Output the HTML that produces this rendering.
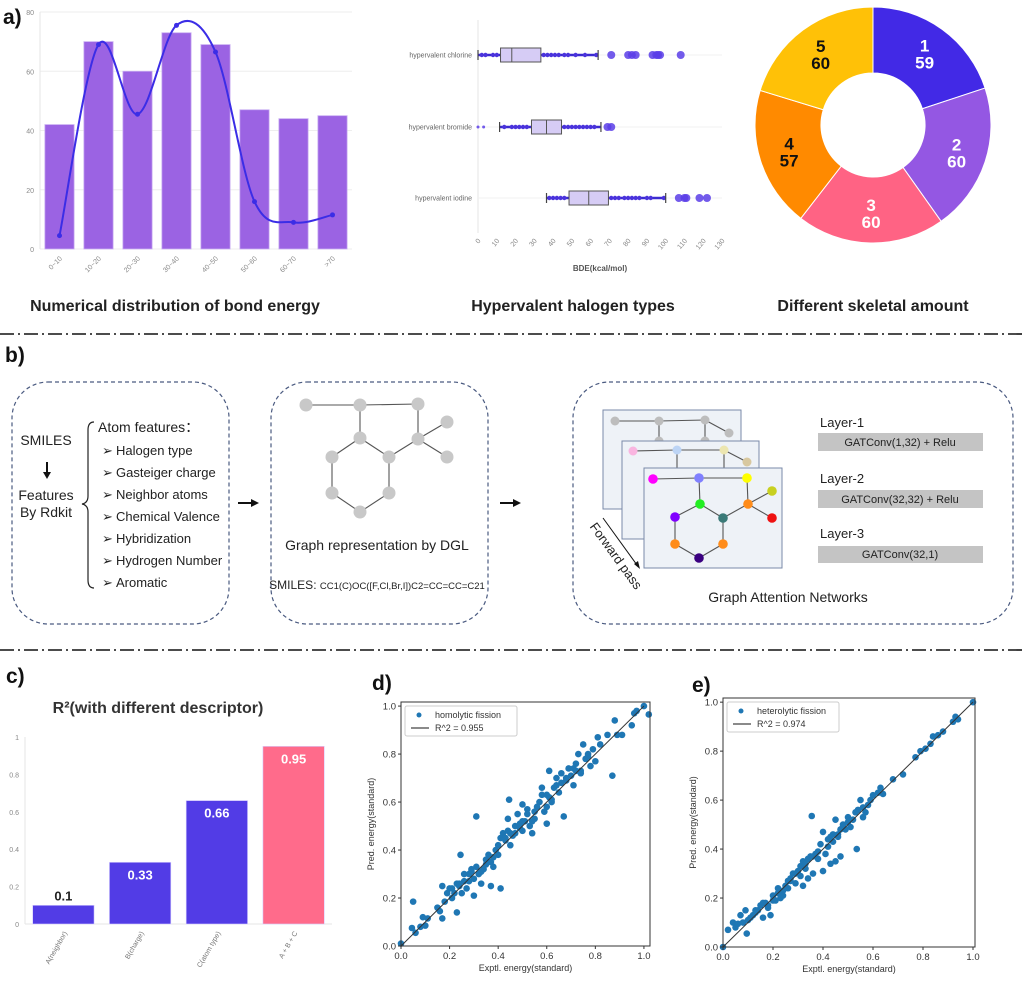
<!DOCTYPE html>
<html><head><meta charset="utf-8">
<style>
html,body{margin:0;padding:0;background:#fff;}
body{width:1024px;height:977px;overflow:hidden;font-family:"Liberation Sans",sans-serif;}
svg text{font-family:"Liberation Sans",sans-serif;}
</style></head>
<body>
<svg id="fig" width="1024" height="977" viewBox="0 0 1024 977" xmlns="http://www.w3.org/2000/svg">
<g id="static">
  <text x="3" y="24" font-size="21" font-weight="bold" fill="#111">a)</text>
  <text x="5" y="362" font-size="21" font-weight="bold" fill="#111">b)</text>
  <text x="6" y="683" font-size="21" font-weight="bold" fill="#111">c)</text>
  <text x="372" y="690" font-size="21" font-weight="bold" fill="#111">d)</text>
  <text x="692" y="692" font-size="21" font-weight="bold" fill="#111">e)</text>
  <line x1="0" y1="334" x2="1024" y2="334" stroke="#111" stroke-width="1.6" stroke-dasharray="14 4 2 4"/>
  <line x1="0" y1="650" x2="1024" y2="650" stroke="#111" stroke-width="1.6" stroke-dasharray="14 4 2 4"/>
  <text x="175" y="311" font-size="16" font-weight="bold" text-anchor="middle" fill="#222">Numerical distribution of bond energy</text>
  <text x="573" y="311" font-size="16" font-weight="bold" text-anchor="middle" fill="#222">Hypervalent halogen types</text>
  <text x="873" y="311" font-size="16" font-weight="bold" text-anchor="middle" fill="#222">Different skeletal amount</text>

  <rect x="12" y="382" width="217" height="242" rx="36" fill="none" stroke="#4a5a80" stroke-width="1.2" stroke-dasharray="4 3"/>
  <rect x="271" y="382" width="217" height="242" rx="36" fill="none" stroke="#4a5a80" stroke-width="1.2" stroke-dasharray="4 3"/>
  <rect x="573" y="382" width="440" height="242" rx="36" fill="none" stroke="#4a5a80" stroke-width="1.2" stroke-dasharray="4 3"/>
  <g font-size="13" fill="#222">
    <text x="46" y="445" text-anchor="middle" font-size="14">SMILES</text>
    <line x1="47" y1="462" x2="47" y2="474" stroke="#111" stroke-width="2"/>
    <polygon points="43,472 51,472 47,479" fill="#111"/>
    <text x="46" y="500" text-anchor="middle" font-size="14">Features</text>
    <text x="46" y="517" text-anchor="middle" font-size="14">By Rdkit</text>
    <path d="M94,422 Q88,422 88,430 L88,496 Q88,503 82,504 Q88,505 88,512 L88,580 Q88,588 94,588" fill="none" stroke="#222" stroke-width="1.2"/>
    <text x="98" y="432" font-size="14">Atom features：</text>
    <g>
      <text x="102" y="455">➢</text><text x="116" y="455">Halogen type</text>
      <text x="102" y="477">➢</text><text x="116" y="477">Gasteiger charge</text>
      <text x="102" y="499">➢</text><text x="116" y="499">Neighbor atoms</text>
      <text x="102" y="521">➢</text><text x="116" y="521">Chemical Valence</text>
      <text x="102" y="543">➢</text><text x="116" y="543">Hybridization</text>
      <text x="102" y="565">➢</text><text x="116" y="565">Hydrogen Number</text>
      <text x="102" y="587">➢</text><text x="116" y="587">Aromatic</text>
    </g>
  </g>
  <g>
    <line x1="238" y1="503" x2="253" y2="503" stroke="#111" stroke-width="2"/><polygon points="251,499 259,503 251,507" fill="#111"/>
    <line x1="500" y1="503" x2="515" y2="503" stroke="#111" stroke-width="2"/><polygon points="513,499 521,503 513,507" fill="#111"/>
  </g>
  <g id="molecule"></g>
  <text x="377" y="550" font-size="14" text-anchor="middle" fill="#222">Graph representation by DGL</text>
  <text x="377" y="589" text-anchor="middle" fill="#222"><tspan font-size="12">SMILES: </tspan><tspan font-size="9.5">CC1(C)OC([F,Cl,Br,I])C2=CC=CC=C21</tspan></text>

  <rect x="603" y="410" width="138" height="99" fill="#eef2f7" stroke="#7a8aa8" stroke-width="1"/>
  <g id="card1"></g>
  <rect x="622" y="441" width="137" height="98" fill="#eef2f7" stroke="#7a8aa8" stroke-width="1"/>
  <g id="card2"></g>
  <rect x="644" y="468" width="138" height="100" fill="#eef2f7" stroke="#7a8aa8" stroke-width="1"/>
  <g id="card3"></g>
  <line x1="603" y1="518" x2="637" y2="565" stroke="#111" stroke-width="1"/>
  <polygon points="634,564 640,569 638,561" fill="#111"/>
  <text x="0" y="0" font-size="13" fill="#222" dominant-baseline="hanging" transform="translate(597,521) rotate(54)">Forward pass</text>
  <text x="820" y="427" font-size="13" fill="#222">Layer-1</text>
  <rect x="818" y="433" width="165" height="18" fill="#c4c4c4"/>
  <text x="900" y="446" font-size="11" text-anchor="middle" fill="#222">GATConv(1,32) + Relu</text>
  <text x="820" y="483" font-size="13" fill="#222">Layer-2</text>
  <rect x="818" y="490" width="165" height="18" fill="#c4c4c4"/>
  <text x="900" y="503" font-size="11" text-anchor="middle" fill="#222">GATConv(32,32) + Relu</text>
  <text x="820" y="538" font-size="13" fill="#222">Layer-3</text>
  <rect x="818" y="546" width="165" height="17" fill="#c4c4c4"/>
  <text x="900" y="558" font-size="11" text-anchor="middle" fill="#222">GATConv(32,1)</text>
  <text x="788" y="602" font-size="14" text-anchor="middle" fill="#222">Graph Attention Networks</text>

  <text x="158" y="713" font-size="16" font-weight="bold" text-anchor="middle" fill="#333">R²(with different descriptor)</text>
</g>
<g id="charts"></g>
</svg>
<script>
const bondCats = ["0~10","10~20","20~30","30~40","40~50","50~60","60~70",">70"];
const bondCounts = [42, 70, 60, 73, 69, 47, 44, 45];
const bondCurve = [4.5, 69, 45.5, 75.5, 66.5, 16, 9, 11.5];
const bondTicks = [0, 20, 40, 60, 80];
const halCats = ["hypervalent chlorine","hypervalent bromide","hypervalent iodine"];
const halQ1 = [12, 28.5, 48.5];
const halMed = [18, 36.5, 59];
const halQ3 = [33.5, 44.5, 69.5];
const halLo = [0, 11.5, 36.5];
const halHi = [64, 65.5, 100];
const halOutliers = [[71,80,82,84,93,95,96,97,108],[0,3,69,71],[107,110,111,118,122]];
const halInliers = [[2,4,8,10,35,37,39,41,43,46,48,52,57,63],[14,18,20,22,24,26,46,48,50,52,54,56,58,60,62],[38,40,42,44,46,71,73,75,78,80,82,84,86,90,92,99]];
const bdeTicks = [0,10,20,30,40,50,60,70,80,90,100,110,120,130];
const skelLabels = ["1","2","3","4","5"];
const skelValues = [59, 60, 60, 57, 60];
const descCats = ["A(neighbor)","B(charge)","C(atom type)","A + B + C"];
const descR2 = [0.1, 0.33, 0.66, 0.95];
const descLabels = ["0.1","0.33","0.66","0.95"];
const r2Ticks = [0, 0.2, 0.4, 0.6, 0.8, 1];
const r2TickLabels = ["0","0.2","0.4","0.6","0.8","1"];
const scTicks = [0, 0.2, 0.4, 0.6, 0.8, 1.0];
const scTickLabels = ["0.0","0.2","0.4","0.6","0.8","1.0"];
const homoX = [0,0.045,0.05,0.06,0.08,0.09,0.1,0.11,0.15,0.16,0.17,0.17,0.18,0.19,0.2,0.21,0.22,0.23,0.23,0.24,0.245,0.25,0.26,0.27,0.28,0.29,0.3,0.3,0.31,0.31,0.32,0.33,0.34,0.35,0.36,0.37,0.37,0.38,0.39,0.4,0.41,0.42,0.43,0.44,0.44,0.445,0.45,0.46,0.47,0.48,0.49,0.5,0.5,0.51,0.52,0.53,0.54,0.55,0.57,0.58,0.59,0.6,0.6,0.61,0.61,0.62,0.63,0.64,0.65,0.66,0.67,0.68,0.69,0.7,0.71,0.72,0.73,0.74,0.75,0.76,0.77,0.78,0.79,0.8,0.81,0.82,0.85,0.87,0.88,0.89,0.91,0.95,0.96,0.97,1.0,1.02,0.26,0.28,0.33,0.4,0.41,0.47,0.56,0.58,0.71,0.52,0.43,0.49,0.55,0.62,0.66,0.74,0.21,0.35,0.24,0.29,0.38,0.45,0.5,0.54,0.6,0.64,0.68,0.72,0.77];
const homoY = [0.01,0.075,0.185,0.055,0.08,0.12,0.085,0.115,0.16,0.145,0.115,0.25,0.185,0.22,0.24,0.2,0.22,0.14,0.26,0.25,0.38,0.22,0.27,0.24,0.3,0.32,0.21,0.28,0.54,0.33,0.3,0.26,0.32,0.36,0.38,0.35,0.25,0.33,0.4,0.38,0.24,0.47,0.44,0.48,0.53,0.61,0.42,0.46,0.5,0.55,0.51,0.59,0.48,0.52,0.57,0.5,0.47,0.53,0.6,0.63,0.56,0.58,0.51,0.73,0.62,0.6,0.66,0.7,0.64,0.72,0.54,0.69,0.74,0.71,0.67,0.76,0.8,0.72,0.84,0.78,0.8,0.75,0.82,0.77,0.87,0.84,0.88,0.71,0.94,0.88,0.88,0.92,0.97,0.98,1.0,0.965,0.3,0.27,0.31,0.42,0.45,0.47,0.58,0.66,0.74,0.55,0.45,0.49,0.56,0.61,0.68,0.73,0.24,0.34,0.26,0.31,0.37,0.47,0.52,0.52,0.63,0.67,0.7,0.73,0.79];
const heteX = [0.0,0.02,0.04,0.05,0.06,0.07,0.08,0.09,0.095,0.1,0.11,0.12,0.13,0.14,0.15,0.16,0.17,0.18,0.19,0.2,0.21,0.22,0.23,0.24,0.25,0.26,0.27,0.28,0.29,0.3,0.31,0.32,0.32,0.33,0.34,0.35,0.355,0.36,0.37,0.38,0.39,0.4,0.4,0.41,0.42,0.43,0.44,0.45,0.45,0.46,0.47,0.48,0.49,0.5,0.51,0.52,0.535,0.54,0.55,0.56,0.57,0.58,0.6,0.62,0.63,0.64,0.68,0.72,0.77,0.79,0.81,0.83,0.84,0.86,0.88,0.92,0.93,0.94,1.0,0.27,0.31,0.34,0.42,0.47,0.5,0.56,0.44,0.59,0.16,0.22,0.24,0.13,0.18,0.36,0.46,0.2,0.26,0.29,0.33,0.38,0.43,0.48,0.53];
const heteY = [0.0,0.07,0.1,0.08,0.095,0.13,0.1,0.15,0.055,0.11,0.12,0.13,0.14,0.15,0.17,0.12,0.18,0.16,0.13,0.21,0.19,0.22,0.2,0.23,0.25,0.24,0.27,0.3,0.26,0.31,0.29,0.25,0.35,0.32,0.28,0.37,0.535,0.3,0.38,0.36,0.42,0.31,0.47,0.38,0.44,0.34,0.43,0.52,0.35,0.46,0.37,0.5,0.48,0.53,0.49,0.52,0.4,0.56,0.6,0.57,0.55,0.58,0.62,0.63,0.65,0.625,0.685,0.705,0.775,0.8,0.81,0.83,0.86,0.865,0.88,0.92,0.94,0.93,1.0,0.28,0.33,0.36,0.41,0.48,0.51,0.53,0.46,0.6,0.18,0.24,0.21,0.15,0.17,0.37,0.45,0.19,0.27,0.3,0.34,0.39,0.45,0.49,0.55];

const NS = "http://www.w3.org/2000/svg";
const root = document.getElementById('charts');
function mk(tag, attrs, parent, text){
  const e = document.createElementNS(NS, tag);
  for (const k in attrs) e.setAttribute(k, attrs[k]);
  if (text !== undefined) e.textContent = text;
  (parent || root).appendChild(e);
  return e;
}
function grp(name, parent){
  const g = mk('g', {}, parent);
  
  
  return g;
}

(function(){
  const g = grp('bond-energy-chart');
  const x0 = 40, x1 = 352, yTop = 12, yBot = 249, yMax = 80;
  const sy = v => yBot - (v / yMax) * (yBot - yTop);
  const step = (x1 - x0) / bondCats.length;
  const cx = i => x0 + step * (i + 0.5);
  bondTicks.forEach(t => {
    const l = mk('line', {x1:x0, x2:x1, y1:sy(t), y2:sy(t), stroke:'#eeeeee', 'stroke-width':1}, g);
    
    
    const tx = mk('text', {x:x0-6, y:sy(t)+3, 'font-size':7, fill:'#888', 'text-anchor':'end'}, g, String(t));
    
    
  });
  mk('line', {x1:x0, x2:x0, y1:yTop, y2:yBot, stroke:'#e6e6e6'}, g);
  bondCounts.forEach((v, i) => {
    const w = step * 0.75;
    const r = mk('rect', {x:cx(i)-w/2, y:sy(v), width:w, height:yBot-sy(v), fill:'#9b63e3', stroke:'#c9aef2', 'stroke-width':0.8}, g);
    
    
    const t = mk('text', {'font-size':7, fill:'#888', 'text-anchor':'end', transform:`translate(${cx(i)+3},${yBot+10}) rotate(-45)`}, g, bondCats[i]);
    
    
  });
  const pts = bondCurve.map((v, i) => [cx(i), sy(v)]);
  let d = `M${pts[0][0]},${pts[0][1]}`;
  for (let i = 0; i < pts.length - 1; i++){
    const p0 = pts[Math.max(0, i-1)], p1 = pts[i], p2 = pts[i+1], p3 = pts[Math.min(pts.length-1, i+2)];
    const t = 1/6;
    d += ` C${p1[0]+(p2[0]-p0[0])*t},${p1[1]+(p2[1]-p0[1])*t} ${p2[0]-(p3[0]-p1[0])*t},${p2[1]-(p3[1]-p1[1])*t} ${p2[0]},${p2[1]}`;
  }
  const c = mk('path', {d:d, fill:'none', stroke:'#3b2de6', 'stroke-width':2}, g);
  
  
  pts.forEach(p => {
    const m = mk('circle', {cx:p[0], cy:p[1], r:2.5, fill:'#3b2de6'}, g);
    
    
  });
})();

(function(){
  const g = grp('halogen-boxplot');
  const x0 = 478, x1 = 722, vMax = 130, yAx = 233;
  const sx = v => x0 + (v / vMax) * (x1 - x0);
  const rowY = [55, 127, 198];
  mk('line', {x1:x0, x2:x0, y1:20, y2:yAx, stroke:'#e6e6e6'}, g);
  bdeTicks.forEach(t => {
    const tx = mk('text', {'font-size':7, fill:'#888', 'text-anchor':'end', transform:`translate(${sx(t)+3},${yAx+8}) rotate(-50)`}, g, String(t));
    
    
  });
  const xl = mk('text', {x:600, y:271, 'font-size':8, 'font-weight':'bold', fill:'#555', 'text-anchor':'middle'}, g, 'BDE(kcal/mol)');
  
  
  halCats.forEach((cat, i) => {
    const y = rowY[i];
    mk('line', {x1:x0, x2:x1, y1:y, y2:y, stroke:'#f0f0f0'}, g);
    const lb = mk('text', {x:x0-6, y:y+2.5, 'font-size':7, fill:'#666', 'text-anchor':'end'}, g, cat);
    
    
    mk('line', {x1:sx(halLo[i]), x2:sx(halHi[i]), y1:y, y2:y, stroke:'#3b2bd0', 'stroke-width':2.6}, g);
    halInliers[i].forEach(v => mk('circle', {cx:sx(v), cy:y, r:2.2, fill:'#4a33dc'}, g));
    const b = mk('rect', {x:sx(halQ1[i]), y:y-7, width:sx(halQ3[i])-sx(halQ1[i]), height:14, fill:'#d6ccf5', stroke:'#555', 'stroke-width':1}, g);
    
    
    mk('line', {x1:sx(halMed[i]), x2:sx(halMed[i]), y1:y-7, y2:y+7, stroke:'#555'}, g);
    mk('line', {x1:sx(halLo[i]), x2:sx(halLo[i]), y1:y-5, y2:y+5, stroke:'#444', 'stroke-width':1.2}, g);
    mk('line', {x1:sx(halHi[i]), x2:sx(halHi[i]), y1:y-5, y2:y+5, stroke:'#444', 'stroke-width':1.2}, g);
    halOutliers[i].forEach(v => {
      const o = mk('circle', {cx:sx(v), cy:y, r:(v>halHi[i]?4:1.5), fill:'#5a3ee8', opacity:0.85}, g);
      
      
    });
  });
})();

(function(){
  const g = grp('skeletal-donut');
  const cx = 873, cy = 125, R = 118, r = 52;
  const colors = ['#4229e6','#9457e3','#ff6384','#ff8a00','#ffc107'];
  const txtCol = ['#fff','#fff','#fff','#111','#111'];
  const total = skelValues.reduce((a,b)=>a+b,0);
  let a = -Math.PI/2;
  skelValues.forEach((v, i) => {
    const a2 = a + v/total*2*Math.PI;
    const P = (rad, ang) => [cx + rad*Math.cos(ang), cy + rad*Math.sin(ang)];
    const p1 = P(R,a), p2 = P(R,a2), p3 = P(r,a2), p4 = P(r,a);
    const large = (a2-a) > Math.PI ? 1 : 0;
    const s = mk('path', {d:`M${p1} A${R},${R} 0 ${large} 1 ${p2} L${p3} A${r},${r} 0 ${large} 0 ${p4} Z`, fill:colors[i], stroke:'#fff', 'stroke-width':1}, g);
    
    
    const m = (a + a2)/2, lp = P(88, m);
    const t1 = mk('text', {x:lp[0], y:lp[1]-2, 'font-size':17, 'font-weight':'bold', fill:txtCol[i], 'text-anchor':'middle'}, g, skelLabels[i]);
    
    
    const t2 = mk('text', {x:lp[0], y:lp[1]+15, 'font-size':17, 'font-weight':'bold', fill:txtCol[i], 'text-anchor':'middle'}, g, String(v));
    
    
    a = a2;
  });
})();

function drawGraph(parentId, nodes, edges, colors, r){
  const p = document.getElementById(parentId);
  edges.forEach(e => mk('line', {x1:nodes[e[0]][0], y1:nodes[e[0]][1], x2:nodes[e[1]][0], y2:nodes[e[1]][1], stroke:'#555', 'stroke-width':1.1}, p));
  nodes.forEach((n, i) => {
    const c = mk('circle', {cx:n[0], cy:n[1], r:r, fill:colors[i]}, p);
    
    
  });
}
drawGraph('molecule',
  [[306,405],[360,405],[418,404],[447,422],[360,438],[418,439],[447,457],[332,457],[389,457],[332,493],[389,493],[360,512]],
  [[0,1],[1,2],[1,4],[2,5],[5,3],[5,6],[4,7],[4,8],[8,5],[7,9],[8,10],[9,11],[10,11]],
  Array(12).fill('#c8c8c8'), 6.5);
drawGraph('card1', [[615,421],[659,421],[705,420],[729,433],[659,441],[705,441]], [[0,1],[1,2],[1,4],[2,5],[2,3]], Array(6).fill('#bdbdbd'), 4.5);
drawGraph('card2', [[633,451],[677,450],[724,450],[747,462],[677,468],[724,468]], [[0,1],[1,2],[1,4],[2,5],[2,3]], ['#f9b5e0','#bcd4f5','#ece6b0','#d8c8a0','none','none'], 4.5);
drawGraph('card3',
  [[653,479],[699,478],[747,478],[772,491],[700,504],[748,504],[675,517],[723,518],[772,518],[675,544],[723,544],[699,558]],
  [[0,1],[1,2],[1,4],[2,5],[5,3],[5,8],[4,6],[4,7],[7,5],[6,9],[7,10],[9,11],[10,11]],
  ['#ff00ff','#8080ff','#ffff00','#c8d020','#22ee22','#ff8c1a','#8000ff','#3a7a78','#ee1111','#ff8c1a','#ff8c1a','#3a0080'], 4.8);

(function(){
  const g = grp('descriptor-bar-chart');
  const x0 = 25, x1 = 332, yTop = 737, yBot = 924;
  const sy = v => yBot - v * (yBot - yTop);
  const step = (x1 - x0) / descCats.length;
  const cx = i => x0 + step * (i + 0.5);
  mk('line', {x1:x0, x2:x0, y1:yTop, y2:yBot, stroke:'#e6e6e6'}, g);
  mk('line', {x1:x0, x2:x1, y1:yBot, y2:yBot, stroke:'#e6e6e6'}, g);
  r2Ticks.forEach((t, i) => {
    const tx = mk('text', {x:x0-6, y:sy(t)+3, 'font-size':7, fill:'#888', 'text-anchor':'end'}, g, r2TickLabels[i]);
    
    
  });
  descR2.forEach((v, i) => {
    const w = step * 0.8;
    const col = i === 3 ? '#ff6b8b' : '#523ce6';
    const r = mk('rect', {x:cx(i)-w/2, y:sy(v), width:w, height:yBot-sy(v), fill:col, stroke:'#d8d0ff', 'stroke-width':0.6}, g);
    
    
    const inside = v > 0.2;
    const t = mk('text', {x:cx(i), y:inside ? sy(v)+17 : sy(v)-5, 'font-size':13, 'font-weight':'bold', fill:inside?'#fff':'#222', 'text-anchor':'middle'}, g, descLabels[i]);
    
    
    const xt = mk('text', {'font-size':7, fill:'#777', 'text-anchor':'end', transform:`translate(${cx(i)+4},${yBot+9}) rotate(-60)`}, g, descCats[i]);
    
    
  });
})();

function scatter(name, fx0, fx1, fy0, fy1, xMax, yMax, xs, ys, legendText, r2Text){
  const g = grp(name);
  const sx = v => fx0 + v / xMax * (fx1 - fx0);
  const sy = v => fy1 - v / yMax * (fy1 - fy0);
  xs.forEach((x, i) => {
    const c = mk('circle', {cx:sx(x), cy:sy(ys[i]), r:3.3, fill:'#1f77b4'}, g);
    
    
  });
  const l = mk('line', {x1:sx(0), y1:sy(0), x2:sx(1), y2:sy(1), stroke:'#333', 'stroke-width':1}, g);
  
  
  mk('rect', {x:fx0, y:fy0, width:fx1-fx0, height:fy1-fy0, fill:'none', stroke:'#333', 'stroke-width':1}, g);
  scTicks.forEach((t, i) => {
    mk('line', {x1:sx(t), x2:sx(t), y1:fy1, y2:fy1+3, stroke:'#333'}, g);
    mk('line', {x1:fx0-3, x2:fx0, y1:sy(t), y2:sy(t), stroke:'#333'}, g);
    const a = mk('text', {x:sx(t), y:fy1+13, 'font-size':9.5, fill:'#333', 'text-anchor':'middle'}, g, scTickLabels[i]);
    
    
    const b = mk('text', {x:fx0-5, y:sy(t)+3.5, 'font-size':9.5, fill:'#333', 'text-anchor':'end'}, g, scTickLabels[i]);
    
    
  });
  const xt = mk('text', {x:(fx0+fx1)/2, y:fy1+25, 'font-size':9, fill:'#333', 'text-anchor':'middle'}, g, 'Exptl. energy(standard)');
  
  
  const yt = mk('text', {'font-size':9, fill:'#333', 'text-anchor':'middle', transform:`translate(${fx0-27},${(fy0+fy1)/2}) rotate(-90)`}, g, 'Pred. energy(standard)');
  
  
  const lg = grp(name + '-legend', g);
  mk('rect', {x:fx0+4, y:fy0+4, width:112, height:30, fill:'#fff', stroke:'#ccc', rx:2}, lg);
  mk('circle', {cx:fx0+18, cy:fy0+13, r:2.5, fill:'#1f77b4'}, lg);
  mk('text', {x:fx0+34, y:fy0+16, 'font-size':9, fill:'#333'}, lg, legendText);
  mk('line', {x1:fx0+10, x2:fx0+28, y1:fy0+26, y2:fy0+26, stroke:'#444', 'stroke-width':1.2}, lg);
  mk('text', {x:fx0+34, y:fy0+29, 'font-size':9, fill:'#333'}, lg, r2Text);
}
scatter('homolytic-scatter', 401, 650, 702, 946, 1.025, 1.017, homoX, homoY, 'homolytic fission', 'R^2 = 0.955');
scatter('heterolytic-scatter', 723, 975, 698, 947, 1.008, 1.017, heteX, heteY, 'heterolytic fission', 'R^2 = 0.974');
</script>
</body></html>
